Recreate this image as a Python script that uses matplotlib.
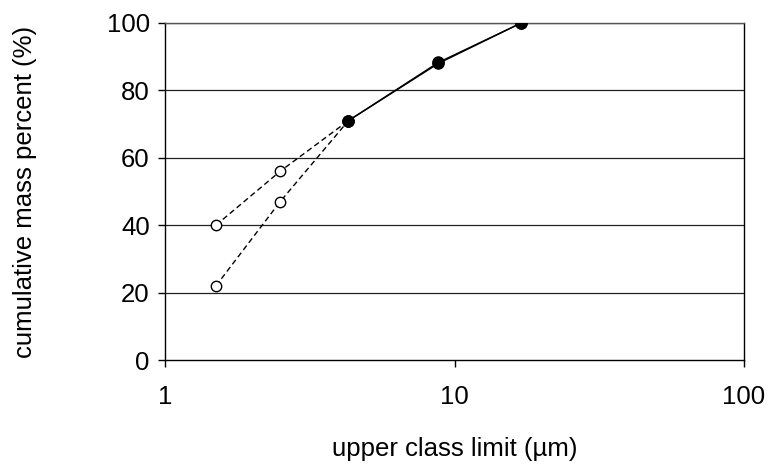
import matplotlib
matplotlib.use("Agg")
import matplotlib.pyplot as plt

plt.rcParams['font.family'] = ['Liberation Sans', 'DejaVu Sans']

# measured points (upper class limit in µm, cumulative mass %)
x_fine = [1.5, 2.5, 4.3]
y_fine_a = [40, 56, 71]
y_fine_b = [22, 47, 71]
x_coarse = [4.3, 8.8, 17]
y_coarse_a = [71, 88.3, 100]
y_coarse_b = [71, 88.0, 100]

yticks = [0, 20, 40, 60, 80, 100]
xticks = [1, 10, 100]
xticklabels = ['1', '10', '100']

fig = plt.figure(figsize=(7.68, 4.69), dpi=100)
ax = fig.add_axes([0.2148, 0.2324, 0.7540, 0.7186])

for yy in yticks[1:]:
    ax.axhline(yy, color='#222222', lw=0.9, zorder=1)

dash = dict(color='black', lw=1, dashes=(4, 2.5), marker='o', ms=7.5,
            mfc='white', mec='black', mew=1, zorder=3)
ax.plot(x_fine, y_fine_a, **dash)
ax.plot(x_fine, y_fine_b, **dash)

solid = dict(color='black', lw=1, marker='o', ms=8, mfc='black',
             mec='black', zorder=4)
ax.plot(x_coarse, y_coarse_a, **solid)
ax.plot(x_coarse, y_coarse_b, **solid)

ax.set_xscale('log')
ax.set_xlim(1, 100)
ax.set_ylim(0, 100)
ax.set_xticks(xticks)
ax.set_xticklabels(xticklabels)
ax.minorticks_off()
ax.set_yticks(yticks)

for s in ax.spines.values():
    s.set_color('black')
    s.set_linewidth(1)
ax.spines['top'].set_color('#555555')

fs = 18.5
ax.tick_params(axis='x', direction='out', length=5, width=1, pad=13,
               labelsize=fs)
ax.tick_params(axis='y', direction='out', length=5, width=1, pad=6,
               labelsize=fs)

ax.set_xlabel('upper class limit (µm)', fontsize=fs, labelpad=20)
ax.set_ylabel('cumulative mass percent (%)', fontsize=fs, labelpad=50)

fig.savefig('out.png', dpi=100)
